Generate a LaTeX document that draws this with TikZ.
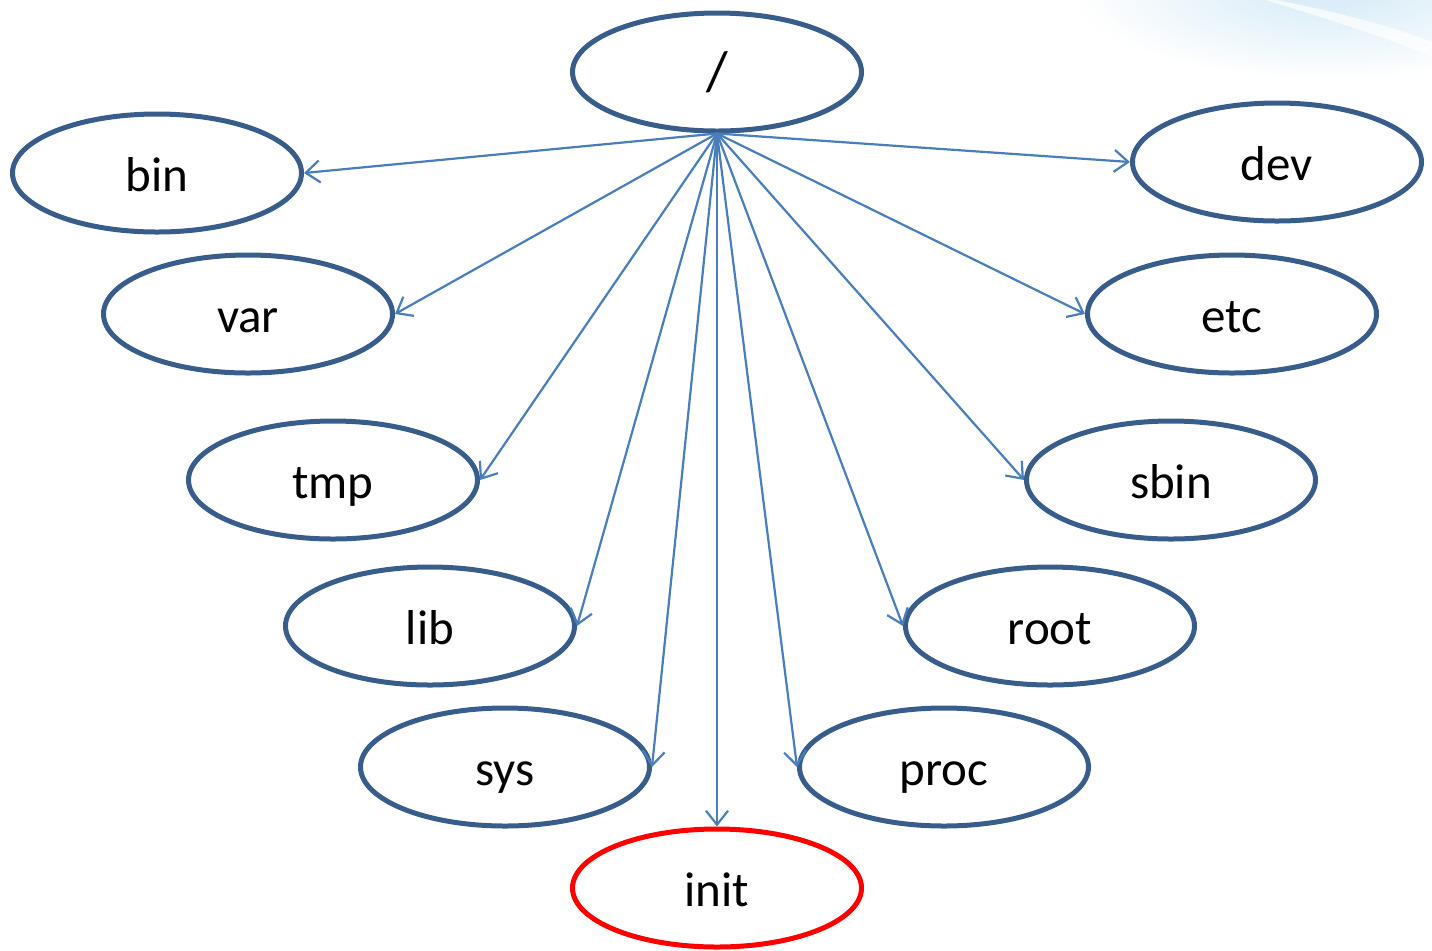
\documentclass[tikz,border=0pt]{standalone}
\usepackage{fontspec}
\setmainfont{Carlito}
\usetikzlibrary{shapes.geometric,arrows.meta}
\definecolor{ellblue}{HTML}{385D8A}
\definecolor{arrblue}{HTML}{4A7EBB}
\definecolor{swoosh}{HTML}{A9D4EE}
\tikzset{
  dir/.style={ellipse,draw=ellblue,line width=2.5pt,minimum width=144.5pt,minimum height=59pt,inner sep=0pt,text height=23pt,text depth=5pt,font=\fontsize{24.5}{28}\selectfont},
  initdir/.style={dir,draw=red},
  link/.style={draw=arrblue,line width=1.1pt,-{Straight Barb[length=7pt,width=11pt,line width=1.1pt]}}
}
\begin{document}
\begin{tikzpicture}[x=0.5pt,y=-0.5pt]
\useasboundingbox (0,0) rectangle (1432,950);
% faint swoosh in the top-right corner
\begin{scope}
\clip (0,0) rectangle (1432,950);
\shade[inner color=swoosh!70,outer color=white,opacity=0.7] (1330,-10) ellipse [x radius=260,y radius=90];
\fill[white,opacity=0.7] (1250,-5) .. controls (1330,10) and (1390,25) .. (1440,45) -- (1440,60) .. controls (1390,38) and (1330,20) .. (1250,-5) -- cycle;
\end{scope}
\node[dir,font=\fontsize{28}{30}\selectfont] (root) at (717,72) {/};
\node[dir] (bin) at (157,173) {bin};
\node[dir] (var) at (248,314) {var};
\node[dir] (tmp) at (333,480) {tmp};
\node[dir] (lib) at (430,626) {lib};
\node[dir] (sys) at (505,767) {sys};
\node[initdir] (init) at (717,888) {init};
\node[dir] (proc) at (944,767) {proc};
\node[dir] (rootd) at (1050,626) {root};
\node[dir] (sbin) at (1171,480) {sbin};
\node[dir] (etc) at (1232,314) {etc};
\node[dir] (dev) at (1277,162) {dev};
\draw[link] (root.south) -- (bin.east);
\draw[link] (root.south) -- (var.east);
\draw[link] (root.south) -- (tmp.east);
\draw[link] (root.south) -- (lib.east);
\draw[link] (root.south) -- (sys.east);
\draw[link] (root.south) -- (init.north);
\draw[link] (root.south) -- (proc.west);
\draw[link] (root.south) -- (rootd.west);
\draw[link] (root.south) -- (sbin.west);
\draw[link] (root.south) -- (etc.west);
\draw[link] (root.south) -- (dev.west);
\end{tikzpicture}
\end{document}
